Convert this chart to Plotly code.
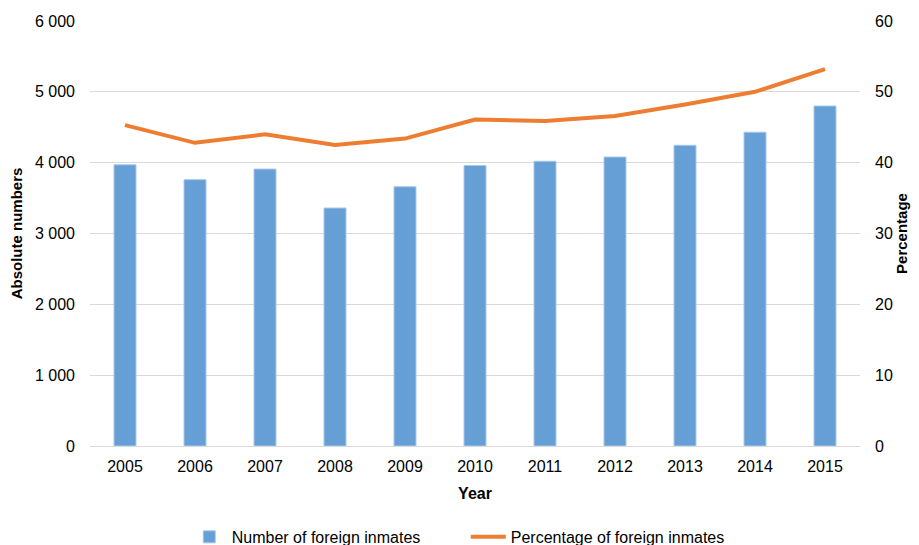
import plotly.graph_objects as go

years = ["2005", "2006", "2007", "2008", "2009", "2010", "2011", "2012", "2013", "2014", "2015"]
inmates = [3970, 3760, 3910, 3360, 3660, 3960, 4020, 4080, 4245, 4430, 4800]
percentage = [45.3, 42.8, 44.0, 42.5, 43.4, 46.1, 45.9, 46.6, 48.2, 50.0, 53.2]

bar_name = "Number of foreign inmates"
line_name = "Percentage of foreign inmates"

FONT = "Liberation Sans, Arial, sans-serif"

fig = go.Figure()
fig.add_trace(go.Bar(
    x=years, y=inmates, name=bar_name,
    marker=dict(color="#659FD6", line=dict(color="#A9C8EA", width=1)),
    yaxis="y",
))
fig.add_trace(go.Scatter(
    x=years, y=percentage, name=line_name, mode="lines",
    line=dict(color="#ED7D31", width=4),
    yaxis="y2",
))

# page body has an 8px default margin; compensate so the plot lands where the reference has it
fig.update_layout(
    width=911, height=537,
    margin=dict(l=82, r=59, t=13, b=99, autoexpand=False),
    paper_bgcolor="white", plot_bgcolor="white",
    separators=". ",
    font=dict(family=FONT, size=16, color="#000000"),
    bargap=0.686,
    showlegend=True,
    legend=dict(
        orientation="h", x=0.488, xanchor="center",
        y=-0.214, yanchor="middle",
        font=dict(size=16, family=FONT), itemwidth=35, tracegroupgap=0,
        entrywidth=229, entrywidthmode="pixels",
    ),
    xaxis=dict(
        showgrid=False, showline=False, zeroline=False, ticks="",
        ticklabelstandoff=9, automargin=False,
        title=dict(text="<b>Year</b>", font=dict(size=16), standoff=13),
    ),
    yaxis=dict(
        range=[0, 6000], dtick=1000, tickformat=",d",
        showgrid=True, gridcolor="#D9D9D9", gridwidth=1,
        zeroline=True, zerolinecolor="#D9D9D9", zerolinewidth=1,
        showline=False, ticks="", ticklabelstandoff=14, automargin=False,
        title=dict(text="<b>Absolute numbers</b>", font=dict(size=15), standoff=8),
    ),
    yaxis2=dict(
        range=[0, 60], dtick=10, overlaying="y", side="right",
        showgrid=False, zeroline=False, showline=False, ticks="",
        ticklabelstandoff=14, automargin=False,
        title=dict(text="<b>Percentage</b>", font=dict(size=15), standoff=2),
    ),
)

fig.write_html("out.html")
